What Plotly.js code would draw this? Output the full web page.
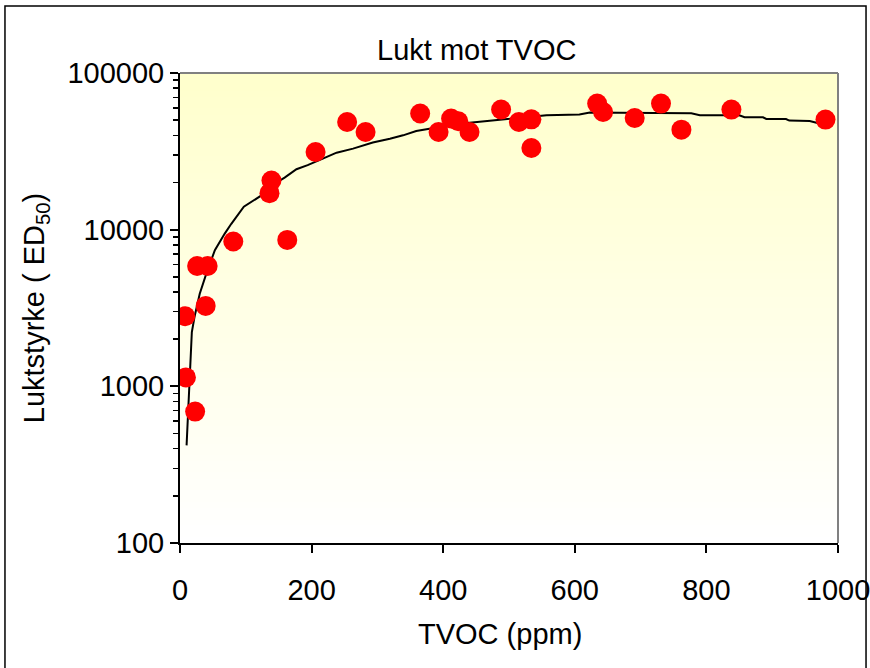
<!DOCTYPE html>
<html>
<head>
<meta charset="utf-8">
<script src="https://cdn.plot.ly/plotly-3.0.1.min.js"></script>
<style>
  html, body { margin: 0; padding: 0; background: #ffffff; }
  #chart { width: 870px; height: 668px; }
</style>
</head>
<body>
<div id="chart"></div>
<script>
// Measured samples: odour strength versus total volatile organic compounds
const tvoc = [8, 9, 23, 26, 39, 42, 81, 136, 139, 163, 206, 254, 282, 365, 393, 412, 423, 440, 488, 515, 534, 534, 634, 643, 691, 731, 762, 838, 981];
const odour = [2800, 1140, 690, 5860, 3260, 5860, 8400, 17100, 20600, 8600, 31300, 48700, 42000, 55100, 42000, 51200, 49200, 42000, 58500, 48700, 50600, 33200, 63800, 56400, 51600, 63800, 43500, 58400, 50400];

// Trend line through the samples
const trendTvoc = [10, 14, 18, 22, 30, 40, 53, 68, 78, 97, 113, 129, 144, 159, 177, 194, 217, 238, 263, 293, 319, 339, 359, 395, 415, 440, 466, 501, 526, 557, 607, 623, 668, 777, 790, 850, 858, 886, 891, 921, 926, 957, 982];
const trendOdour = [420, 990, 2220, 2770, 3900, 5240, 7400, 9440, 10900, 14000, 15400, 17100, 19700, 21500, 24300, 25800, 28400, 31000, 32900, 36000, 38100, 40000, 42600, 45200, 46800, 48200, 49400, 51200, 51900, 53700, 54300, 55900, 55700, 55300, 53700, 53700, 52150, 52150, 50860, 50860, 49670, 49400, 46360];

const xTicks = [0, 200, 400, 600, 800, 1000];

const FONT = 'Liberation Sans, Arial, sans-serif';
const FS = 29;

// Plot-area fill: pale yellow at the top fading to white at the bottom
function mix(a, b, t) {
  return Math.round(a + (b - a) * t);
}
const bands = [];
const N = 80;
for (let i = 0; i < N; i++) {
  const t = i / (N - 1); // 0 bottom, 1 top
  const bl = mix(255, 204, t);
  bands.push({
    type: 'rect', xref: 'paper', yref: 'paper', layer: 'below',
    x0: 0, x1: 1, y0: i / N, y1: (i + 1) / N + 0.002,
    fillcolor: `rgb(255,255,${bl})`, line: { width: 0 }
  });
}

const frame = [
  // grey top and right edges of the plot area
  { type: 'line', xref: 'paper', yref: 'paper', x0: 0, x1: 1, y0: 1, y1: 1,
    line: { color: '#808080', width: 2 }, layer: 'above' },
  { type: 'line', xref: 'paper', yref: 'paper', x0: 1, x1: 1, y0: 0, y1: 1,
    line: { color: '#808080', width: 2 }, layer: 'above' },
  // outer chart border
  { type: 'rect', xref: 'paper', yref: 'paper',
    x0: -0.266, x1: 1.0426, y0: -0.40, y1: 1.1426,
    line: { color: '#000000', width: 1.5 }, fillcolor: 'rgba(0,0,0,0)', layer: 'above' }
];

const traces = [
  {
    x: trendTvoc, y: trendOdour, type: 'scatter', mode: 'lines',
    line: { color: '#000000', width: 2 }, hoverinfo: 'skip', showlegend: false
  },
  {
    x: tvoc, y: odour, type: 'scatter', mode: 'markers',
    marker: { color: '#ff0000', size: 20, line: { width: 0 } }, showlegend: false
  }
];

const layout = {
  width: 870, height: 668,
  margin: { l: 180, r: 32, t: 73, b: 125 },
  paper_bgcolor: '#ffffff', plot_bgcolor: '#ffffff',
  font: { family: FONT, size: FS, color: '#000000' },
  title: {
    text: 'Lukt mot TVOC', font: { family: FONT, size: FS, color: '#000000' },
    xref: 'paper', x: 0.451, xanchor: 'center',
    yref: 'container', y: 1 - 50 / 668, yanchor: 'middle'
  },
  xaxis: {
    range: [0, 1000], tickvals: xTicks, ticktext: xTicks.map(String),
    ticks: 'outside', ticklen: 8, tickwidth: 2, tickcolor: '#000000',
    ticklabelstandoff: 12, ticklabeloverflow: 'allow',
    showline: true, linecolor: '#000000', linewidth: 2,
    showgrid: false, zeroline: false,
    tickfont: { family: FONT, size: FS }
  },
  yaxis: {
    type: 'log', range: [2, 5], dtick: 1, tickformat: 'd',
    ticks: 'outside', ticklen: 8, tickwidth: 2, tickcolor: '#000000',
    ticklabeloverflow: 'allow',
    minor: { dtick: 'D1', ticks: 'outside', ticklen: 5, tickwidth: 1.5, tickcolor: '#000000', showgrid: false },
    showline: true, linecolor: '#000000', linewidth: 2,
    showgrid: false, zeroline: false,
    tickfont: { family: FONT, size: FS },
    title: { text: 'Luktstyrke ( ED<sub>50</sub>)', font: { family: FONT, size: FS }, standoff: 14 }
  },
  annotations: [
    {
      text: 'TVOC (ppm)', showarrow: false,
      xref: 'paper', x: (500 - 180) / 658, xanchor: 'center',
      yref: 'paper', y: (543 - 634) / 470, yanchor: 'middle',
      font: { family: FONT, size: FS, color: '#000000' }
    }
  ],
  shapes: bands.concat(frame)
};

Plotly.newPlot('chart', traces, layout, { displayModeBar: false, staticPlot: true });
</script>
</body>
</html>
